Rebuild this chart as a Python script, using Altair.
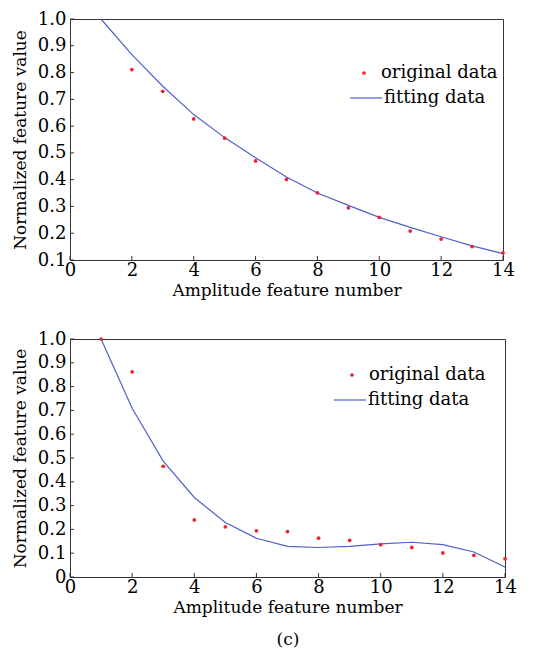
import altair as alt
import pandas as pd

# ---- data ----
x_orig_top = [2, 3, 4, 5, 6, 7, 8, 9, 10, 11, 12, 13, 14]
y_orig_top = [0.811, 0.730, 0.627, 0.555, 0.470, 0.401, 0.351, 0.295, 0.259, 0.208, 0.178, 0.150, 0.127]
x_fit_top = [1, 2, 3, 4, 5, 6, 7, 8, 9, 10, 11, 12, 13, 14]
y_fit_top = [1.0, 0.867, 0.749, 0.643, 0.557, 0.482, 0.410, 0.350, 0.304, 0.259, 0.222, 0.187, 0.153, 0.124]

x_orig_bot = [1, 2, 3, 4, 5, 6, 7, 8, 9, 10, 11, 12, 13, 14]
y_orig_bot = [1.0, 0.862, 0.465, 0.240, 0.211, 0.194, 0.191, 0.163, 0.154, 0.136, 0.124, 0.101, 0.091, 0.077]
x_fit_bot = [1, 2, 3, 4, 5, 6, 7, 8, 9, 10, 11, 12, 13, 14]
y_fit_bot = [1.0, 0.709, 0.487, 0.334, 0.229, 0.163, 0.129, 0.124, 0.129, 0.139, 0.146, 0.136, 0.105, 0.042]

x_ticks = [0, 2, 4, 6, 8, 10, 12, 14]
y_ticks_top = [0.1, 0.2, 0.3, 0.4, 0.5, 0.6, 0.7, 0.8, 0.9, 1.0]
y_ticks_bot = [0.0, 0.1, 0.2, 0.3, 0.4, 0.5, 0.6, 0.7, 0.8, 0.9, 1.0]

FONT = "DejaVu Serif"
AX = "#333333"


def panel(xo, yo, xf, yf, yticks, ydom, w, h, pt_col, ln_col, leg_pt, leg_ln, xtitle, label_expr):
    d_orig = pd.DataFrame({"x": xo, "y": yo, "s": ["original data"] * len(xo)})
    d_fit = pd.DataFrame({"x": xf, "y": yf, "s": ["fitting data"] * len(xf)})
    xs = alt.Scale(domain=[0, 14], nice=False)
    ys = alt.Scale(domain=ydom, nice=False, zero=False)
    xax = alt.Axis(values=x_ticks, format="d", tickSize=0, labelPadding=1, labelOverlap=False,
                   grid=False, title=xtitle, titlePadding=3, titleLineHeight=32)
    yax = alt.Axis(values=yticks, labelExpr=label_expr, tickSize=0, labelPadding=4, labelOverlap=False,
                   grid=False, title="Normalized feature value", titlePadding=8)

    fit = alt.Chart(d_fit).mark_line(strokeWidth=1.2).encode(
        x=alt.X("x:Q", scale=xs, axis=xax),
        y=alt.Y("y:Q", scale=ys, axis=yax),
        stroke=alt.Stroke("s:N", scale=alt.Scale(range=[ln_col]),
                          legend=alt.Legend(title=None, orient="none", legendX=leg_ln[0], legendY=leg_ln[1],
                                            symbolType="stroke", symbolSize=1024, symbolStrokeWidth=1.2,
                                            labelOffset=1, labelFont=FONT, labelFontSize=18,
                                            labelColor="black")),
    )
    pts = alt.Chart(d_orig).mark_point(filled=True, size=14, opacity=1).encode(
        x=alt.X("x:Q", scale=xs, axis=xax),
        y=alt.Y("y:Q", scale=ys, axis=yax),
        fill=alt.Fill("s:N", scale=alt.Scale(range=[pt_col]),
                      legend=alt.Legend(title=None, orient="none", legendX=leg_pt[0], legendY=leg_pt[1],
                                        symbolType="circle", symbolSize=14, symbolStrokeWidth=0,
                                        labelOffset=8, labelFont=FONT, labelFontSize=18,
                                        labelColor="black")),
    )
    yt = alt.Chart(pd.DataFrame({"v": yticks})).mark_rule(color=AX, strokeWidth=1).encode(
        y=alt.Y("v:Q", scale=ys, axis=yax), x=alt.value(0), x2=alt.value(4))
    xt = alt.Chart(pd.DataFrame({"v": x_ticks})).mark_rule(color=AX, strokeWidth=1).encode(
        x=alt.X("v:Q", scale=xs, axis=xax), y=alt.value(h), y2=alt.value(h - 4))
    return alt.layer(fit, pts, yt, xt).properties(width=w, height=h).resolve_legend(
        stroke="independent", fill="independent")


top = panel(x_orig_top, y_orig_top, x_fit_top, y_fit_top, y_ticks_top, [0.1, 1.0], 433, 241,
            "#ee2233", "#4f60cc", (285, 45), (279, 62), "Amplitude feature number",
            "format(datum.value, '.1f')")
bot = panel(x_orig_bot, y_orig_bot, x_fit_bot, y_fit_bot, y_ticks_bot, [0.0, 1.0], 435, 238,
            "#cc2233", "#3b3b9e", (273, 27), (263, 44), ["Amplitude feature number", "(c)"],
            "datum.value == 0 ? '0' : format(datum.value, '.1f')")

chart = alt.vconcat(top, bot, spacing=30).properties(
    padding={"left": 2, "top": 1, "right": 5, "bottom": 2}
).configure_view(stroke=AX, strokeWidth=1).configure_axis(
    domainColor=AX, labelFont=FONT, titleFont=FONT, labelFontSize=18, titleFontSize=17,
    labelColor="black", titleColor="black", titleFontWeight="normal", labelFlush=False,
).configure_legend(padding=0)

chart.save("out.html", embed_options={"renderer": "svg", "actions": False})
